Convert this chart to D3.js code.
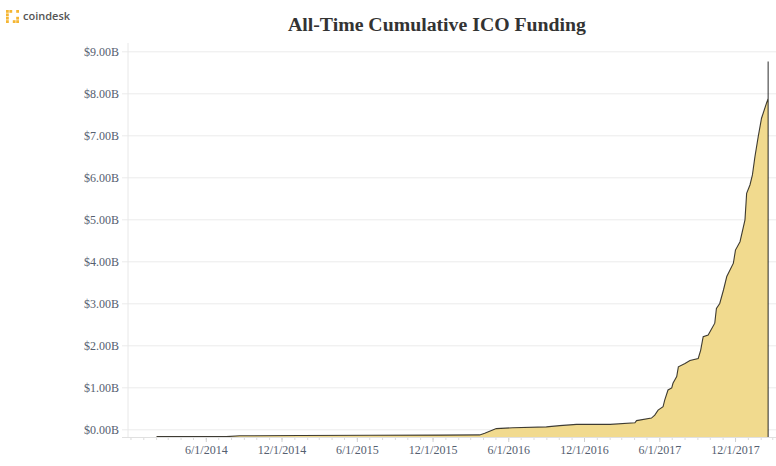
<!DOCTYPE html>
<html>
<head>
<meta charset="utf-8">
<script src="https://cdn.jsdelivr.net/npm/d3@7/dist/d3.min.js"></script>
<style>
  html, body { margin: 0; padding: 0; background: #fff; }
  svg { display: block; }
</style>
</head>
<body>
<svg id="chart" width="776" height="466"></svg>
<script>
// ---- Data ----
const dates = [
  "2014-02-02","2014-07-20","2014-08-22","2015-01-15","2015-07-02","2015-12-15","2016-03-24",
  "2016-04-05","2016-05-03","2016-06-12","2016-09-01","2016-10-03","2016-11-13","2017-02-02",
  "2017-04-03","2017-04-07","2017-05-13","2017-05-21","2017-05-29","2017-06-10","2017-06-14",
  "2017-06-22","2017-07-01","2017-07-04","2017-07-13","2017-07-17","2017-08-02","2017-08-14",
  "2017-09-03","2017-09-09","2017-09-15","2017-09-27","2017-10-13","2017-10-17","2017-10-25",
  "2017-11-03","2017-11-11","2017-11-27","2017-12-02","2017-12-13","2017-12-25","2017-12-29",
  "2018-01-06","2018-01-12","2018-01-18","2018-01-26","2018-02-03","2018-02-15","2018-02-19",
  "2018-02-19","2018-02-19"
];
const valuesB = [
  0.01,0.01,0.03,0.035,0.04,0.045,0.05,
  0.09,0.20,0.22,0.24,0.27,0.30,0.30,
  0.34,0.39,0.45,0.52,0.64,0.72,0.88,
  1.12,1.17,1.28,1.44,1.67,1.75,1.82,
  1.87,2.07,2.39,2.43,2.71,3.06,3.18,
  3.50,3.82,4.14,4.45,4.65,5.17,5.80,
  6.00,6.24,6.67,7.15,7.59,7.95,8.06,
  8.94,0
];
const yTickValues = [0,1,2,3,4,5,6,7,8,9];
const majorTickDates = ["2014-06-01","2014-12-01","2015-06-01","2015-12-01","2016-06-01","2016-12-01","2017-06-01","2017-12-01"];
const xDomain = ["2013-11-25","2018-03-10"];
const title = "All-Time Cumulative ICO Funding";

// ---- Setup ----
const parse = d3.timeParse("%Y-%m-%d");
const data = dates.map((d, i) => ({ date: parse(d), value: valuesB[i] }));

const svg = d3.select("#chart");
const plotLeft = 128, plotRight = 776, plotBottom = 437, plotTop = 59;

const x = d3.scaleTime().domain(xDomain.map(parse)).range([plotLeft, plotRight]);
const y = d3.scaleLinear().domain([0, 9]).range([plotBottom, plotTop]);
const gridShift = -7.7;

// Title
svg.append("text")
  .attr("x", 437).attr("y", 31)
  .attr("text-anchor", "middle")
  .attr("font-family", "'Liberation Serif', 'Times New Roman', serif")
  .attr("font-weight", "bold")
  .attr("font-size", 19.8)
  .attr("fill", "#333")
  .text(title);

// Logo
const logo = svg.append("g").attr("transform", "translate(6,10)");
const cells = [[0,0],[1,0],[3,0],[0,1],[0,3],[3,2],[3,3],[2,3],[0,2]];
logo.selectAll("rect").data(cells).join("rect")
  .attr("x", d => d[0] * 3.4).attr("y", d => d[1] * 3.4)
  .attr("width", 2.8).attr("height", 2.8)
  .attr("fill", "#f5b633");
svg.append("text")
  .attr("x", 23).attr("y", 19.5)
  .attr("font-family", "'Open Sans', sans-serif")
  .attr("font-weight", 600)
  .attr("font-size", 11)
  .attr("fill", "#555")
  .text("coindesk");

// Gridlines
const grid = svg.append("g").attr("transform", `translate(122,${gridShift})`)
  .call(d3.axisRight(y).tickValues(yTickValues).tickSize(plotRight - 122).tickFormat(""));
grid.select(".domain").remove();
grid.selectAll("line").attr("stroke", "#ececec");

// Y axis labels
const yAxis = svg.append("g").attr("transform", `translate(${plotLeft},${gridShift})`)
  .call(d3.axisLeft(y).tickValues(yTickValues).tickSize(0).tickPadding(9)
    .tickFormat(d => "$" + d3.format(".2f")(d) + "B"));
yAxis.select(".domain").remove();
yAxis.selectAll("text")
  .attr("font-family", "'Liberation Serif', 'Times New Roman', serif")
  .attr("font-size", 12)
  .attr("fill", "#556070");

// Vertical axis line
svg.append("line")
  .attr("x1", plotLeft).attr("x2", plotLeft).attr("y1", 43).attr("y2", plotBottom)
  .attr("stroke", "#e8e8e8");

// Area + line
const area = d3.area().x(d => x(d.date)).y0(plotBottom).y1(d => y(d.value));
const line = d3.line().x(d => x(d.date)).y(d => y(d.value));

svg.append("path").datum(data.slice(0, data.length - 1))
  .attr("d", area)
  .attr("fill", "#f1da8e");

svg.append("path").datum(data)
  .attr("d", line)
  .attr("fill", "none")
  .attr("stroke", "#000")
  .attr("stroke-opacity", 0.75)
  .attr("stroke-width", 1.1);

// X axis: minor monthly ticks
const xMinor = svg.append("g").attr("transform", `translate(0,${plotBottom})`)
  .call(d3.axisBottom(x).ticks(d3.timeMonth.every(1)).tickSize(3).tickFormat(""));
xMinor.select(".domain").remove();
xMinor.selectAll("line").attr("stroke", "#dcdcdc");

// X axis: major ticks with labels
const xAxis = svg.append("g").attr("transform", `translate(0,${plotBottom})`)
  .call(d3.axisBottom(x).tickValues(majorTickDates.map(parse)).tickSize(5).tickPadding(3)
    .tickFormat(d3.timeFormat("%-m/%-d/%Y")));
xAxis.select(".domain").remove();
xAxis.selectAll("line").attr("stroke", "#d0d0d0");
xAxis.selectAll("text")
  .attr("font-family", "'Liberation Serif', 'Times New Roman', serif")
  .attr("font-size", 12)
  .attr("fill", "#556070");

// Baseline
svg.append("line")
  .attr("x1", 122).attr("x2", plotRight).attr("y1", plotBottom + 0.5).attr("y2", plotBottom + 0.5)
  .attr("stroke", "#e0e0e0");
</script>
</body>
</html>
